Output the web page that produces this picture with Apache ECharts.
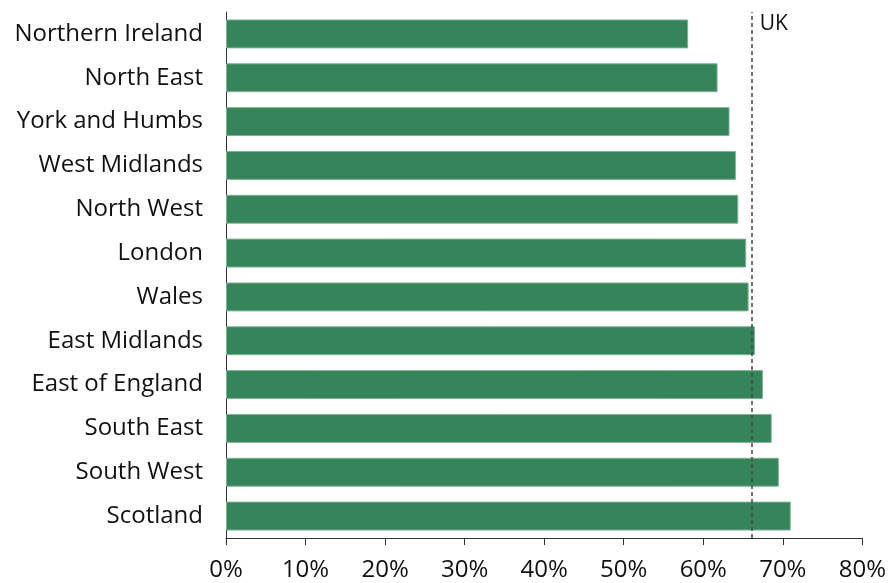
<!DOCTYPE html>
<html><head><meta charset="utf-8">
<script src="https://cdn.jsdelivr.net/npm/echarts@6/dist/echarts.min.js"></script>
<style>html,body{margin:0;padding:0;background:#fff}#c{width:889px;height:583px}</style>
</head><body><div id="c"></div>
<script>
const categories = ["Northern Ireland","North East","York and Humbs","West Midlands","North West","London","Wales","East Midlands","East of England","South East","South West","Scotland"];
const values = [58.1,61.8,63.3,64.1,64.4,65.4,65.7,66.5,67.5,68.6,69.5,71.0];
const ukValue = 66.1;
const xTicks = [0,10,20,30,40,50,60,70,80];

const chart = echarts.init(document.getElementById('c'));
chart.setOption({
  animation:false,
  grid:{left:226,right:24,top:12,bottom:45},
  xAxis:{type:'value',min:xTicks[0],max:xTicks[xTicks.length-1],interval:10,
    axisLine:{show:true,lineStyle:{color:'#333',width:1}},
    axisTick:{show:true,length:7,lineStyle:{color:'#333'}},
    splitLine:{show:false},
    axisLabel:{formatter:'{value}%',fontFamily:'Open Sans',fontSize:24,color:'#111',margin:20}},
  yAxis:{type:'category',data:categories,inverse:true,
    axisLine:{show:true,lineStyle:{color:'#333',width:1}},
    axisTick:{show:false},
    axisLabel:{fontFamily:'Open Sans',fontSize:24,color:'#111',margin:23}},
  series:[{type:'bar',data:values,barWidth:'66%',
    itemStyle:{color:'#36845a',borderColor:'#7fb396',borderWidth:1},
    markLine:{symbol:'none',silent:true,
      lineStyle:{type:[4,3],color:'#444',width:1.5},
      label:{show:true,position:'end',formatter:'UK',fontFamily:'Open Sans',fontSize:21,color:'#111',
        align:'left',verticalAlign:'top',offset:[8,7]},
      data:[[{coord:[ukValue,categories[11]],y:538},{coord:[ukValue,categories[0]],y:12}]]}}]
});
</script></body></html>
